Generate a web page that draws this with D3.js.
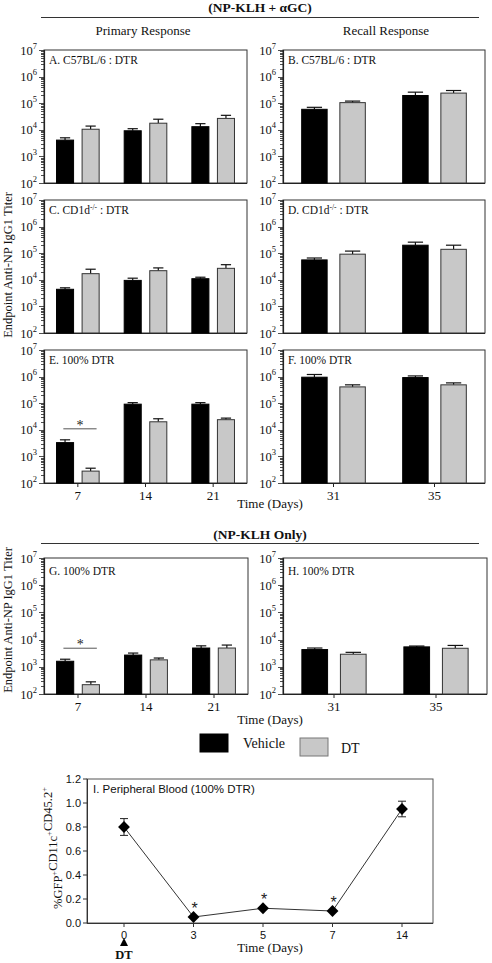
<!DOCTYPE html>
<html><head><meta charset="utf-8">
<script src="https://cdn.jsdelivr.net/npm/d3@7"></script>
<style>
body{margin:0;background:#fff}
svg{display:block}
text{font-family:"Liberation Serif","Times New Roman",serif;fill:#111}
</style>
</head><body>
<svg id="c" width="492" height="963"></svg>
<script>
// ---------- DATA ----------
const primaryDays = ["7", "14", "21"];
const recallDays = ["31", "35"];
const seriesNames = ["Vehicle", "DT"];

const A_vehicle = [4100, 9200, 13100],  A_vehicleUp = [5000, 11000, 17000];
const A_dt      = [10500, 17700, 26800], A_dtUp     = [13800, 25000, 35000];
const B_vehicle = [59000, 195000],       B_vehicleUp = [70000, 260000];
const B_dt      = [105000, 240000],      B_dtUp     = [120000, 300000];
const C_vehicle = [4400, 9500, 11000],   C_vehicleUp = [5000, 11500, 12500];
const C_dt      = [17000, 22000, 27000], C_dtUp     = [25000, 28000, 37000];
const D_vehicle = [56000, 200000],       D_vehicleUp = [66000, 260000];
const D_dt      = [92000, 140000],       D_dtUp     = [120000, 200000];
const E_vehicle = [3300, 92000, 92000],  E_vehicleUp = [4200, 105000, 105000];
const E_dt      = [280, 20000, 24000],   E_dtUp     = [360, 26000, 27500];
const F_vehicle = [950000, 920000],      F_vehicleUp = [1200000, 1060000];
const F_dt      = [410000, 490000],      F_dtUp     = [490000, 580000];
const G_vehicle = [1600, 2700, 4900],    G_vehicleUp = [1900, 3200, 5900];
const G_dt      = [220, 1800, 4900],     G_dtUp     = [280, 2100, 6300];
const H_vehicle = [4300, 5400],          H_vehicleUp = [4900, 5800];
const H_dt      = [2900, 4800],          H_dtUp     = [3400, 6100];

const bloodDays = ["0", "3", "5", "7", "14"];
const bloodPct  = [0.80, 0.05, 0.123, 0.10, 0.95];
const bloodErr  = [0.07, 0, 0, 0, 0.065];
const bloodSig  = [false, true, true, true, false];
const bloodTicks = [0, 0.2, 0.4, 0.6, 0.8, 1.0, 1.2];

// ---------- LAYOUT ----------
const svg = d3.select("#c");
const BLACK = "#000", GREY = "#c8c8c8", AX = "#222";

function panel(cfg) {
  const {x0, x1, y0, y1, days, vehicle, vehicleUp, dt, dtUp, label, sup, labelRest, showX, sigIndex, labelOff} = cfg;
  const g = svg.append("g");
  const y = d3.scaleLog().domain([1e2, 1e7]).range([y1, y0]);
  const xg = d3.scaleBand().domain(days).range([x0, x1]).paddingInner(0.37).paddingOuter(0.185);
  const xs = d3.scaleBand().domain(seriesNames).range([0, xg.bandwidth()]).paddingInner(1/3);

  g.append("rect").attr("x", x0).attr("y", y0).attr("width", x1 - x0).attr("height", y1 - y0)
    .attr("fill", "none").attr("stroke", "#333").attr("stroke-width", 1);

  const ticks = y.ticks();
  ticks.forEach(t => {
    const major = Math.abs(Math.log10(t) - Math.round(Math.log10(t))) < 1e-9;
    g.append("line").attr("x1", x0 - (major ? 5 : 3)).attr("x2", x0)
      .attr("y1", Math.round(y(t)) + 0.5).attr("y2", Math.round(y(t)) + 0.5)
      .attr("stroke", AX).attr("stroke-width", 0.8);
    if (major) {
      const txt = g.append("text").attr("x", x0 - 7).attr("y", y(t) + 4.5)
        .attr("text-anchor", "end").attr("font-size", 12.5);
      txt.append("tspan").text("10");
      txt.append("tspan").attr("dy", -6).attr("font-size", 8.5).text(Math.round(Math.log10(t)));
    }
  });
  g.append("line").attr("x1", x0 + 0.5).attr("x2", x0 + 0.5).attr("y1", y0).attr("y2", y1)
    .attr("stroke", AX).attr("stroke-width", 1.2);
  g.append("line").attr("x1", x0).attr("x2", x1).attr("y1", y1 + 0.5).attr("y2", y1 + 0.5)
    .attr("stroke", AX).attr("stroke-width", 1.2);

  const rows = days.map((d, i) => ({day: d, vals: [
    {s: "Vehicle", v: vehicle[i], up: vehicleUp[i]},
    {s: "DT", v: dt[i], up: dtUp[i]}]}));
  rows.forEach(r => {
    r.vals.forEach(b => {
      const bx = xg(r.day) + xs(b.s), bw = xs.bandwidth();
      const cx = bx + bw / 2, cw = bw * 0.3;
      g.append("line").attr("x1", cx).attr("x2", cx).attr("y1", y(b.v)).attr("y2", y(b.up))
        .attr("stroke", "#111").attr("stroke-width", 1.2);
      g.append("line").attr("x1", cx - cw).attr("x2", cx + cw).attr("y1", y(b.up)).attr("y2", y(b.up))
        .attr("stroke", "#111").attr("stroke-width", 1.2);
      g.append("rect").attr("x", bx).attr("y", y(b.v)).attr("width", bw).attr("height", y1 - y(b.v))
        .attr("fill", b.s === "Vehicle" ? BLACK : GREY)
        .attr("stroke", b.s === "Vehicle" ? "#000" : "#333").attr("stroke-width", 1);
    });
  });

  if (sigIndex !== undefined) {
    const d = days[sigIndex];
    const top = Math.min(y(vehicleUp[sigIndex]), y(dtUp[sigIndex])) - 11;
    const xa = xg(d) + xs.bandwidth() * 0.4, xb = xg(d) + xg.bandwidth() - xs.bandwidth() * 0.15;
    g.append("line").attr("x1", xa).attr("x2", xb).attr("y1", top).attr("y2", top)
      .attr("stroke", "#555").attr("stroke-width", 1);
    g.append("text").attr("x", (xa + xb) / 2).attr("y", top + 1).attr("text-anchor", "middle")
      .attr("font-size", 14).style("fill", "#222").text("*");
  }

  if (showX) {
    days.forEach(d => {
      const cx = xg(d) + xg.bandwidth() / 2;
      g.append("line").attr("x1", cx).attr("x2", cx).attr("y1", y1).attr("y2", y1 + 4)
        .attr("stroke", AX).attr("stroke-width", 1);
      g.append("text").attr("x", cx).attr("y", y1 + 16.5).attr("text-anchor", "middle")
        .attr("font-size", 13).text(d);
    });
  }

  const lt = g.append("text").attr("x", x0 + 5).attr("y", y0 + (labelOff || 14)).attr("font-size", 11.5);
  lt.append("tspan").text(label);
  if (sup) {
    lt.append("tspan").attr("dy", -4).attr("font-size", 7.5).text(sup);
    lt.append("tspan").attr("dy", 4).text(labelRest);
  }
}

function section(title, yTitle, yLine) {
  svg.append("text").attr("x", 260).attr("y", yTitle).attr("text-anchor", "middle")
    .attr("font-size", 13.5).attr("font-weight", "bold").text(title);
  svg.append("line").attr("x1", 41).attr("x2", 479).attr("y1", yLine).attr("y2", yLine)
    .attr("stroke", "#333").attr("stroke-width", 1.2);
}
section("(NP-KLH + \u03B1GC)", 12, 17.5);
svg.append("text").attr("x", 143).attr("y", 35).attr("text-anchor", "middle").attr("font-size", 13).text("Primary Response");
svg.append("text").attr("x", 386).attr("y", 35).attr("text-anchor", "middle").attr("font-size", 13).text("Recall Response");

panel({x0: 44, x1: 247, y0: 50, y1: 183, days: primaryDays, vehicle: A_vehicle, vehicleUp: A_vehicleUp, dt: A_dt, dtUp: A_dtUp, label: "A. C57BL/6 : DTR"});
panel({x0: 283, x1: 485, y0: 50, y1: 183, days: recallDays, vehicle: B_vehicle, vehicleUp: B_vehicleUp, dt: B_dt, dtUp: B_dtUp, label: "B. C57BL/6 : DTR"});
panel({x0: 44, x1: 247, y0: 200, y1: 333, days: primaryDays, vehicle: C_vehicle, vehicleUp: C_vehicleUp, dt: C_dt, dtUp: C_dtUp, label: "C. CD1d", sup: "-/-", labelRest: " : DTR"});
panel({x0: 283, x1: 485, y0: 200, y1: 333, days: recallDays, vehicle: D_vehicle, vehicleUp: D_vehicleUp, dt: D_dt, dtUp: D_dtUp, label: "D. CD1d", sup: "-/-", labelRest: " : DTR"});
panel({x0: 44, x1: 247, y0: 350, y1: 483, days: primaryDays, vehicle: E_vehicle, vehicleUp: E_vehicleUp, dt: E_dt, dtUp: E_dtUp, label: "E. 100% DTR", showX: true, sigIndex: 0});
panel({x0: 283, x1: 485, y0: 350, y1: 483, days: recallDays, vehicle: F_vehicle, vehicleUp: F_vehicleUp, dt: F_dt, dtUp: F_dtUp, label: "F. 100% DTR", showX: true});
svg.append("text").attr("x", 270).attr("y", 508).attr("text-anchor", "middle").attr("font-size", 13).text("Time (Days)");

section("(NP-KLH Only)", 539, 543.5);
panel({x0: 44, x1: 248, y0: 558, y1: 694, days: primaryDays, vehicle: G_vehicle, vehicleUp: G_vehicleUp, dt: G_dt, dtUp: G_dtUp, label: "G. 100% DTR", showX: true, sigIndex: 0, labelOff: 17});
panel({x0: 283, x1: 487, y0: 558, y1: 694, days: recallDays, vehicle: H_vehicle, vehicleUp: H_vehicleUp, dt: H_dt, dtUp: H_dtUp, label: "H. 100% DTR", showX: true, labelOff: 17});
svg.append("text").attr("x", 270).attr("y", 724).attr("text-anchor", "middle").attr("font-size", 13).text("Time (Days)");

[265, 620].forEach(cy => {
  svg.append("text").attr("transform", `translate(12,${cy}) rotate(-90)`).attr("text-anchor", "middle")
    .attr("font-size", 12.5).text("Endpoint Anti-NP IgG1 Titer");
});

const legendItems = [
  {name: seriesNames[0], fill: BLACK, stroke: "#000", rx: 200, ry: 734, tx: 243, ty: 748},
  {name: seriesNames[1], fill: GREY, stroke: "#777", rx: 300, ry: 738, tx: 341, ty: 753}
];
legendItems.forEach(l => {
  svg.append("rect").attr("x", l.rx).attr("y", l.ry).attr("width", 28).attr("height", 18)
    .attr("fill", l.fill).attr("stroke", l.stroke).attr("stroke-width", 1);
  svg.append("text").attr("x", l.tx).attr("y", l.ty).attr("font-size", 14).text(l.name);
});

// ---------- Panel I ----------
(function () {
  const x0 = 87, x1 = 433, y0 = 779, y1 = 923;
  const g = svg.append("g");
  const y = d3.scaleLinear().domain([0, 1.2]).range([y1, y0]);
  const x = d3.scalePoint().domain(bloodDays).range([x0 + 37, x1 - 31]);
  const sans = "'Liberation Sans', Arial, sans-serif";

  g.append("rect").attr("x", x0).attr("y", y0).attr("width", x1 - x0).attr("height", y1 - y0)
    .attr("fill", "none").attr("stroke", "#555").attr("stroke-width", 1);
  g.append("line").attr("x1", x0 + 0.5).attr("x2", x0 + 0.5).attr("y1", y0).attr("y2", y1).attr("stroke", "#333");
  g.append("line").attr("x1", x0).attr("x2", x1).attr("y1", y1 + 0.5).attr("y2", y1 + 0.5).attr("stroke", "#333");

  bloodTicks.forEach(t => {
    g.append("line").attr("x1", x0 - 4).attr("x2", x0).attr("y1", y(t)).attr("y2", y(t)).attr("stroke", "#333");
    g.append("text").attr("x", x0 - 6).attr("y", y(t) + 4).attr("text-anchor", "end")
      .attr("font-size", 11).style("font-family", sans).text(d3.format(".1f")(t));
  });
  bloodDays.forEach(d => {
    g.append("line").attr("x1", x(d)).attr("x2", x(d)).attr("y1", y1).attr("y2", y1 + 4).attr("stroke", "#333");
    g.append("text").attr("x", x(d)).attr("y", y1 + 16).attr("text-anchor", "middle")
      .attr("font-size", 11).style("font-family", sans).text(d);
  });

  const pts = bloodDays.map((d, i) => ({d, v: bloodPct[i], e: bloodErr[i], s: bloodSig[i]}));
  g.append("path").datum(pts)
    .attr("d", d3.line().x(p => x(p.d)).y(p => y(p.v)))
    .attr("fill", "none").attr("stroke", "#333").attr("stroke-width", 1);
  pts.forEach(p => {
    if (p.e > 0) {
      g.append("line").attr("x1", x(p.d)).attr("x2", x(p.d)).attr("y1", y(p.v - p.e)).attr("y2", y(p.v + p.e)).attr("stroke", "#222");
      [p.v - p.e, p.v + p.e].forEach(v => g.append("line").attr("x1", x(p.d) - 4).attr("x2", x(p.d) + 4)
        .attr("y1", y(v)).attr("y2", y(v)).attr("stroke", "#222"));
    }
    g.append("path").attr("d", d3.symbol(d3.symbolSquare, 70)())
      .attr("transform", `translate(${x(p.d)},${y(p.v)}) rotate(45)`).attr("fill", "#000");
    if (p.s) {
      g.append("text").attr("x", x(p.d) + 1).attr("y", y(p.v) - 3).attr("text-anchor", "middle")
        .attr("font-size", 16).style("font-family", sans).style("fill", "#222").text("*");
    }
  });

  g.append("text").attr("x", x0 + 6).attr("y", y0 + 14).attr("font-size", 11.5)
    .style("font-family", sans).text("I. Peripheral Blood (100% DTR)");
  g.append("text").attr("x", 270).attr("y", 952).attr("text-anchor", "middle").attr("font-size", 13).text("Time (Days)");

  const ax = x(bloodDays[0]);
  g.append("path").attr("d", `M${ax - 4},946 L${ax + 4},946 L${ax},938 Z`).attr("fill", "#000");
  g.append("text").attr("x", ax).attr("y", 959).attr("text-anchor", "middle").attr("font-size", 12.5)
    .attr("font-weight", "bold").text("DT");

  const yl = g.append("text").attr("transform", `translate(62,848) rotate(-90)`).attr("text-anchor", "middle").attr("font-size", 12.5);
  [["%GFP", "+"], ["CD11c", "+"], ["CD45.2", "+"]].forEach(([a, b]) => {
    yl.append("tspan").text(a);
    yl.append("tspan").attr("dy", -5).attr("font-size", 8.5).text(b);
    yl.append("tspan").attr("dy", 5).text("");
  });
})();
</script>
</body></html>
